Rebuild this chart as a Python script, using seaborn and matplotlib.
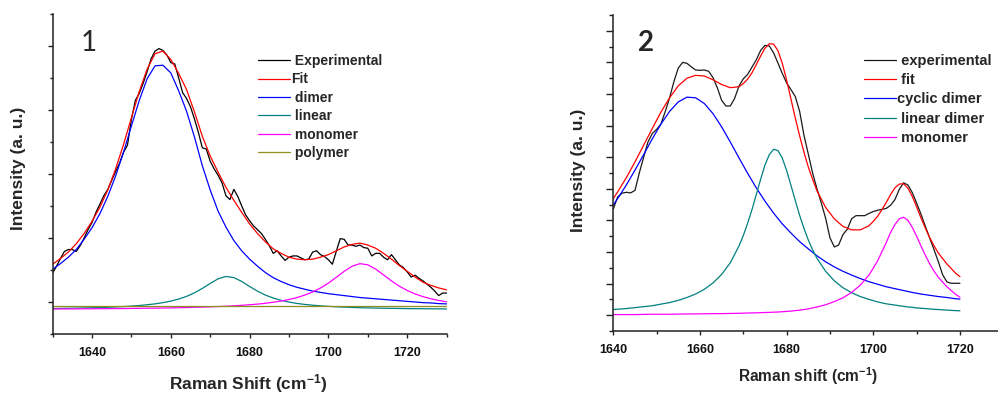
import matplotlib
matplotlib.use("Agg")
import matplotlib.pyplot as plt
from matplotlib.ticker import MultipleLocator, NullFormatter
import seaborn as sns

# ---------------- panel 1 data ----------------
x1_exp = list(range(1630, 1731, 1))
experimental1 = [
    0.45, 0.56, 0.68, 0.79, 0.82, 0.82, 0.79, 0.88, 1.00, 1.13,
    1.24, 1.40, 1.53, 1.66, 1.76, 1.90, 2.04, 2.17, 2.34, 2.45,
    2.85, 3.15, 3.26, 3.42, 3.60, 3.80, 3.92, 3.96, 3.93, 3.86,
    3.74, 3.72, 3.50, 3.27, 3.18, 3.05, 2.86, 2.65, 2.41, 2.39,
    2.20, 2.08, 1.98, 1.86, 1.66, 1.60, 1.76, 1.65, 1.50, 1.36,
    1.27, 1.19, 1.13, 1.07, 0.98, 0.88, 0.76, 0.80, 0.72, 0.65,
    0.70, 0.72, 0.72, 0.69, 0.66, 0.67, 0.78, 0.80, 0.74, 0.71,
    0.66, 0.59, 0.79, 0.99, 0.98, 0.89, 0.89, 0.87, 0.89, 0.85,
    0.84, 0.72, 0.76, 0.76, 0.70, 0.66, 0.74, 0.66, 0.58, 0.54,
    0.47, 0.39, 0.42, 0.37, 0.33, 0.28, 0.23, 0.17, 0.10, 0.14,
    0.14,
]

x1 = list(range(1630, 1731, 2))
fit1 = [
    0.59, 0.68, 0.78, 0.91, 1.07, 1.26, 1.48, 1.75, 2.08, 2.46,
    2.88, 3.29, 3.64, 3.88, 3.92, 3.79, 3.57, 3.32, 2.97, 2.59,
    2.28, 2.03, 1.79, 1.59, 1.40, 1.22, 1.07, 0.94, 0.83, 0.76,
    0.70, 0.67, 0.66, 0.67, 0.70, 0.74, 0.80, 0.86, 0.90, 0.92,
    0.89, 0.84, 0.76, 0.67, 0.57, 0.48, 0.39, 0.31, 0.26, 0.22,
    0.19,
]
dimer1 = [
    0.51, 0.60, 0.70, 0.82, 0.98, 1.16, 1.38, 1.65, 1.97, 2.34,
    2.75, 3.15, 3.49, 3.69, 3.70, 3.58, 3.30, 2.98, 2.58, 2.13,
    1.75, 1.42, 1.17, 0.96, 0.80, 0.67, 0.56, 0.46, 0.38, 0.32,
    0.27, 0.23, 0.20, 0.17, 0.15, 0.13, 0.115, 0.10, 0.085, 0.07,
    0.06, 0.05, 0.04, 0.03, 0.02, 0.01, 0.00, -0.01, -0.015, -0.025,
    -0.03,
]
linear1 = [
    -0.102, -0.100, -0.098, -0.096, -0.093, -0.090, -0.087, -0.082, -0.077, -0.071,
    -0.064, -0.055, -0.043, -0.029, -0.010, 0.014, 0.046, 0.088, 0.143, 0.212,
    0.290, 0.362, 0.399, 0.382, 0.321, 0.243, 0.169, 0.108, 0.062, 0.026,
    -0.001, -0.022, -0.038, -0.050, -0.060, -0.068, -0.075, -0.080, -0.085, -0.089,
    -0.092, -0.095, -0.097, -0.099, -0.101, -0.103, -0.104, -0.105, -0.106, -0.107,
    -0.108,
]
monomer1 = [
    -0.109, -0.108, -0.108, -0.107, -0.106, -0.106, -0.105, -0.104, -0.103, -0.102,
    -0.100, -0.099, -0.097, -0.096, -0.094, -0.092, -0.089, -0.087, -0.083, -0.080,
    -0.076, -0.071, -0.066, -0.060, -0.052, -0.043, -0.033, -0.020, -0.004, 0.015,
    0.039, 0.069, 0.108, 0.157, 0.219, 0.295, 0.385, 0.479, 0.559, 0.599,
    0.581, 0.514, 0.423, 0.330, 0.247, 0.180, 0.126, 0.084, 0.050, 0.024,
    0.003,
]
x1_poly = [1630, 1730]
polymer1 = [-0.07, -0.07]

labels1 = [" Experimental", "Fit", " dimer", " linear", " monomer", " polymer"]

# ---------------- panel 2 data ----------------
x2_exp = list(range(1640, 1721, 1))
experimental2 = [
    3.36, 3.74, 3.86, 3.89, 3.87, 3.95, 4.50, 5.00, 5.48, 5.75,
    5.88, 6.05, 6.45, 6.88, 7.40, 7.82, 8.00, 7.97, 7.86, 7.76,
    7.75, 7.76, 7.72, 7.52, 7.20, 6.80, 6.62, 6.62, 6.86, 7.25,
    7.48, 7.62, 7.85, 8.08, 8.38, 8.54, 8.52, 8.30, 7.98, 7.65,
    7.35, 7.14, 6.92, 6.45, 5.70, 5.10, 4.50, 4.00, 3.55, 3.07,
    2.45, 2.16, 2.22, 2.55, 2.72, 3.05, 3.15, 3.15, 3.15, 3.22,
    3.28, 3.32, 3.35, 3.38, 3.48, 3.66, 3.98, 4.19, 4.12, 3.88,
    3.55, 3.20, 2.82, 2.45, 2.08, 1.70, 1.28, 1.05, 1.01, 1.01,
    1.01,
]

# broad component, sampled every 2 cm-1
x2 = [1640, 1641, 1643, 1645, 1647, 1649, 1651, 1653, 1655, 1657,
      1659, 1661, 1663, 1665, 1667, 1669, 1671, 1673, 1675, 1677,
      1679, 1681, 1683, 1685, 1687, 1689, 1691, 1693, 1695, 1697,
      1699, 1701, 1703, 1705, 1707, 1709, 1711, 1713, 1715, 1717,
      1719, 1720]
cyclic_dimer2 = [
    3.49, 3.69, 4.12, 4.59, 5.08, 5.58, 6.05, 6.45, 6.75, 6.90,
    6.88, 6.70, 6.38, 5.96, 5.48, 4.98, 4.49, 4.03, 3.61, 3.23,
    2.89, 2.60, 2.33, 2.10, 1.88, 1.69, 1.53, 1.39, 1.27, 1.16,
    1.06, 0.98, 0.90, 0.84, 0.78, 0.72, 0.67, 0.63, 0.59, 0.56,
    0.52, 0.51,
]

# narrow bands, sampled every 1 cm-1 across their peaks
x2f = [1640, 1641, 1643, 1645, 1647, 1649, 1651, 1653, 1655, 1657,
       1659, 1661, 1663, 1665, 1667,
       1669, 1670, 1671, 1672, 1673, 1674, 1675, 1676, 1677, 1678,
       1679, 1680, 1681, 1682, 1683, 1684, 1685, 1686, 1687,
       1689, 1691, 1693, 1695, 1697,
       1699, 1700, 1701, 1702, 1703, 1704, 1705, 1706, 1707, 1708,
       1709, 1710, 1711, 1712, 1713, 1714, 1715,
       1717, 1719, 1720]
fit2 = [
    3.69, 3.90, 4.35, 4.85, 5.38, 5.91, 6.43, 6.88, 7.26, 7.50,
    7.59, 7.57, 7.45, 7.30, 7.20,
    7.23, 7.33, 7.47, 7.67, 7.93, 8.20, 8.45, 8.59, 8.58, 8.37,
    7.97, 7.44, 6.84, 6.24, 5.68, 5.16, 4.69, 4.30, 3.94,
    3.41, 3.05, 2.81, 2.70, 2.70,
    2.83, 2.97, 3.13, 3.34, 3.57, 3.82, 4.03, 4.15, 4.16, 4.02,
    3.76, 3.43, 3.08, 2.76, 2.46, 2.20, 1.97,
    1.62, 1.33, 1.22,
]
linear_dimer2 = [
    0.18, 0.19, 0.21, 0.24, 0.27, 0.30, 0.35, 0.40, 0.47, 0.56,
    0.67, 0.82, 1.02, 1.29, 1.66,
    2.19, 2.52, 2.91, 3.34, 3.82, 4.30, 4.75, 5.08, 5.25, 5.21,
    4.97, 4.58, 4.11, 3.63, 3.16, 2.75, 2.38, 2.07, 1.80,
    1.39, 1.09, 0.87, 0.71, 0.59,
    0.50, 0.46, 0.42, 0.39, 0.36, 0.34, 0.32, 0.30, 0.28, 0.26,
    0.25, 0.23, 0.22, 0.21, 0.20, 0.185, 0.18,
    0.16, 0.145, 0.14,
]
monomer2 = [
    0.02, 0.02, 0.02, 0.02, 0.025, 0.03, 0.03, 0.03, 0.035, 0.04,
    0.04, 0.045, 0.05, 0.05, 0.055,
    0.06, 0.065, 0.07, 0.072, 0.075, 0.08, 0.085, 0.09, 0.095, 0.10,
    0.11, 0.12, 0.13, 0.145, 0.16, 0.18, 0.20, 0.23, 0.26,
    0.33, 0.43, 0.55, 0.72, 0.95,
    1.27, 1.49, 1.72, 2.01, 2.30, 2.62, 2.87, 3.05, 3.10, 3.00,
    2.78, 2.50, 2.19, 1.90, 1.63, 1.40, 1.20,
    0.90, 0.66, 0.57,
]

labels2 = [" experimental", " fit", "cyclic dimer", " linear dimer", " monomer"]

# ---------------- style ----------------
sns.set_style("ticks")
plt.rcParams["font.family"] = ["Liberation Sans", "DejaVu Sans"]
plt.rcParams["font.weight"] = "bold"
plt.rcParams["mathtext.fontset"] = "custom"
plt.rcParams["mathtext.rm"] = "Liberation Sans:bold"
plt.rcParams["mathtext.default"] = "rm"

W, H = 998, 395
fig = plt.figure(figsize=(W / 100, H / 100), dpi=100)


def fx(px):
    return px / W


def fy(py):
    return 1 - py / H


ax1 = fig.add_axes([fx(52.6), fy(334), (446.6 - 52.6) / W, (334 - 14) / H])
ax2 = fig.add_axes([fx(613.3), fy(331), (W - 613.3) / W, (331 - 15) / H])

LW = 0.9


def curve(ax, x, y, color, label):
    sns.lineplot(x=x, y=y, color=color, linewidth=LW, label=label, ax=ax,
                 estimator=None, sort=False)


# panel 1 curves
curve(ax1, x1_exp, experimental1, "#000000", labels1[0])
curve(ax1, x1, fit1, "#ff0000", labels1[1])
curve(ax1, x1, dimer1, "#0000ff", labels1[2])
curve(ax1, x1, linear1, "#008080", labels1[3])
curve(ax1, x1, monomer1, "#ff00ff", labels1[4])
curve(ax1, x1_poly, polymer1, "#8f8f1f", labels1[5])

# panel 2 curves
curve(ax2, x2_exp, experimental2, "#1a1a1a", labels2[0])
curve(ax2, x2f, fit2, "#ff0000", labels2[1])
curve(ax2, x2, cyclic_dimer2, "#0000ff", labels2[2])
curve(ax2, x2f, linear_dimer2, "#008080", labels2[3])
curve(ax2, x2f, monomer2, "#ff00ff", labels2[4])

# axes cosmetics
for ax, xr, yr, ymaj, ymin in [
    (ax1, (1630, 1730), (-0.5, 4.5), 3.6, 2.4),
    (ax2, (1640, 1640 + (W - 613.3) / 4.333), (-0.5, 9.5), 4.8, 2.9),
]:
    ax.set_xlim(*xr)
    ax.set_ylim(*yr)
    ax.set_xlabel("")
    ax.set_ylabel("")
    ax.xaxis.set_major_locator(MultipleLocator(20))
    ax.xaxis.set_minor_locator(MultipleLocator(10))
    ax.yaxis.set_major_locator(MultipleLocator(1))
    ax.yaxis.set_minor_locator(MultipleLocator(0.5))
    ax.yaxis.set_major_formatter(NullFormatter())
    ax.tick_params(axis="x", which="major", direction="out", length=3.2,
                   width=1.0, pad=6, labelsize=9, colors="#222222",
                   labelcolor="#111111")
    ax.tick_params(axis="x", which="minor", direction="out", length=2.2,
                   width=1.0, colors="#222222")
    ax.tick_params(axis="y", which="major", direction="out", length=ymaj,
                   width=1.0, colors="#222222")
    ax.tick_params(axis="y", which="minor", direction="out", length=ymin,
                   width=1.0, colors="#222222")
    for lab in ax.get_xticklabels():
        lab.set_fontweight("bold")
    for side in ("top", "right"):
        ax.spines[side].set_visible(False)
    for side in ("left", "bottom"):
        ax.spines[side].set_linewidth(1.1)
        ax.spines[side].set_color("#222222")
    ax.set_facecolor("white")

# legends
h1, l1 = ax1.get_legend_handles_labels()
ax1.legend(h1, l1, loc="upper left", bbox_to_anchor=(fx(258), fy(54)),
           bbox_transform=fig.transFigure, frameon=False,
           prop={"weight": "bold", "size": 10}, handlelength=2.3,
           handletextpad=0.05, labelspacing=0.32, borderpad=0, borderaxespad=0)

h2, l2 = ax2.get_legend_handles_labels()
ax2.legend(h2, l2, loc="upper left", bbox_to_anchor=(fx(864), fy(54)),
           bbox_transform=fig.transFigure, frameon=False,
           prop={"weight": "bold", "size": 10.5}, handlelength=2.2,
           handletextpad=0.05, labelspacing=0.36, borderpad=0, borderaxespad=0)

# axis titles and panel numbers
fig.text(fx(19), fy(168), "Intensity (a. u.)", rotation=90, ha="center",
         va="center", fontsize=12.5, fontweight="bold")
fig.text(fx(248), fy(384), "Raman Shift (cm$^{-1}$)", ha="center",
         va="center", fontsize=12.5, fontweight="bold")
fig.text(fx(578), fy(170), "Intensity (a. u.)", rotation=90, ha="center",
         va="center", fontsize=12.5, fontweight="bold")
fig.text(fx(808), fy(376), "Raman shift (cm$^{-1}$)", ha="center",
         va="center", fontsize=11.2, fontweight="bold")
fig.text(fx(89), fy(43), "1", ha="center", va="center", fontsize=20,
         family=["Lato", "DejaVu Sans"], fontweight="normal")
fig.text(fx(646), fy(43), "2", ha="center", va="center", fontsize=20,
         family=["Lato", "DejaVu Sans"], fontweight="bold")

fig.savefig("out.png", dpi=100, facecolor="white")
